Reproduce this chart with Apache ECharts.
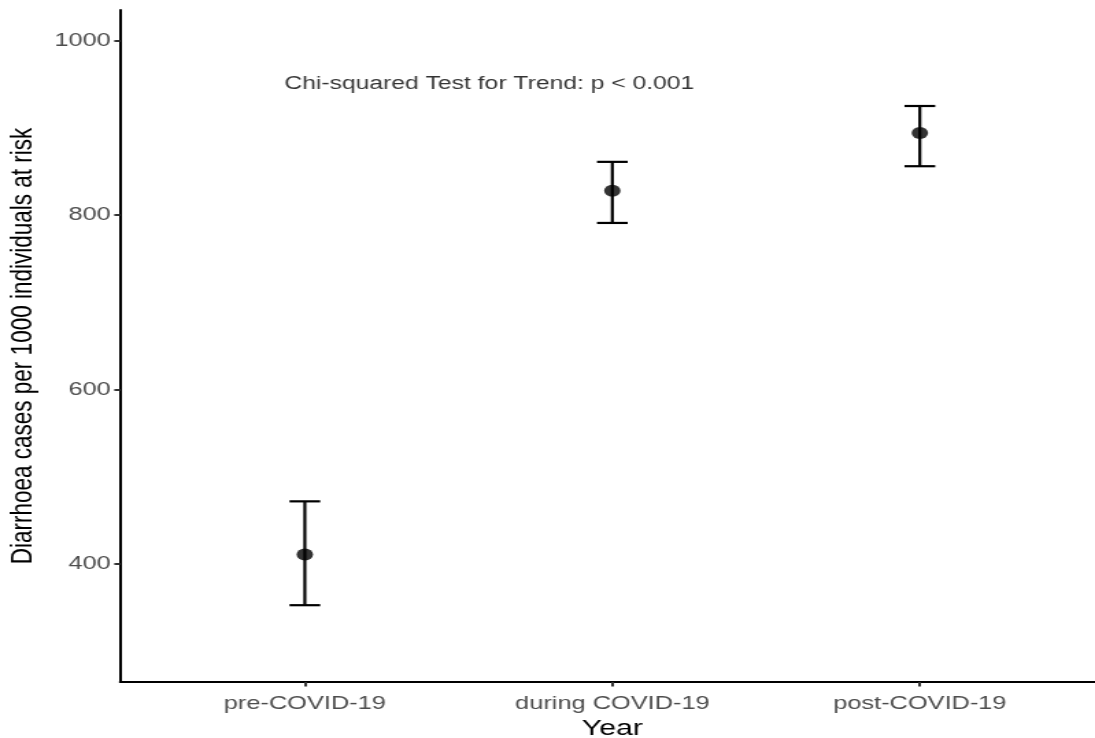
<!DOCTYPE html>
<html>
<head>
<meta charset="utf-8">
<script src="https://cdn.jsdelivr.net/npm/echarts@6/dist/echarts.min.js"></script>
<style>
    html, body { margin: 0; padding: 0; background: #fff; overflow: hidden; }
    /* the reference is a ggplot export stretched sideways, so draw narrow and widen */
    #main { width: 799px; height: 738px; transform: scaleX(1.3705); transform-origin: 0 0; }
</style>
</head>
<body>
<div id="main"></div>
<script>
var periods = ['pre-COVID-19', 'during COVID-19', 'post-COVID-19'];
var rate = [411, 828, 894];   // cases per 1000 at risk
var lower = [353, 791, 856];
var upper = [472, 861, 925];
var yTicks = [400, 600, 800, 1000];
var note = 'Chi-squared Test for Trend: p < 0.001';

var font = '"Liberation Sans", Arial, sans-serif';

var points = [], bars = [];
for (var i = 0; i < periods.length; i++) {
    points.push([i + 1, rate[i]]);
    bars.push([i + 1, lower[i], upper[i]]);
}

// error bar: stem + two caps
function renderBar(params, api) {
    var x = api.value(0);
    var half = 0.05;
    var lo = api.value(1), hi = api.value(2);
    var top = api.coord([x, hi]), bot = api.coord([x, lo]);
    var tl = api.coord([x - half, hi]), tr = api.coord([x + half, hi]);
    var bl = api.coord([x - half, lo]), br = api.coord([x + half, lo]);
    var st = { stroke: '#000', lineWidth: 2.2 };
    return {
        type: 'group',
        children: [
            { type: 'line', shape: { x1: top[0], y1: top[1], x2: bot[0], y2: bot[1] }, style: st },
            { type: 'line', shape: { x1: tl[0], y1: tl[1], x2: tr[0], y2: tr[1] }, style: st },
            { type: 'line', shape: { x1: bl[0], y1: bl[1], x2: br[0], y2: br[1] }, style: st }
        ]
    };
}

var myChart = echarts.init(document.getElementById('main'));
var option = {
    animation: false,
    backgroundColor: '#fff',
    grid: { left: 87.8, top: 10, width: 718, bottom: 56, containLabel: false, outerBoundsMode: 'none' },
    xAxis: {
        type: 'value',
        min: 0.4,
        max: 3.6,
        name: 'Year',
        nameLocation: 'middle',
        nameGap: 32,
        nameTextStyle: { fontFamily: font, fontSize: 22, color: '#000' },
        axisLine: { show: true, onZero: false, lineStyle: { color: '#000', width: 2.2 } },
        axisTick: { show: true, length: 4.5, customValues: [1, 2, 3], lineStyle: { color: '#333', width: 2 } },
        axisLabel: {
            customValues: [1, 2, 3],
            margin: 12,
            fontFamily: font,
            fontSize: 18.5,
            color: '#4d4d4d',
            formatter: function (v) { return periods[Math.round(v) - 1]; }
        },
        splitLine: { show: false }
    },
    yAxis: {
        type: 'value',
        min: 265,
        max: 1035,
        name: 'Diarrhoea cases per 1000 individuals at risk',
        nameLocation: 'middle',
        nameGap: 55,
        nameTextStyle: { fontFamily: font, fontSize: 22.5, color: '#000' },
        axisLine: { show: true, onZero: false, lineStyle: { color: '#000', width: 2 } },
        axisTick: { show: true, length: 4.4, customValues: yTicks, lineStyle: { color: '#333', width: 2 } },
        axisLabel: {
            customValues: yTicks,
            margin: 7,
            fontFamily: font,
            fontSize: 18.5,
            color: '#4d4d4d',
            formatter: function (v) { return String(v); }
        },
        splitLine: { show: false }
    },
    series: [
        {
            type: 'custom',
            renderItem: renderBar,
            data: bars,
            z: 2
        },
        {
            type: 'scatter',
            data: points,
            symbolSize: 12,
            itemStyle: { color: '#000' },
            z: 3
        },
        {
            // trend test note, placed in data space like ggplot annotate()
            type: 'scatter',
            data: [[1.6, 950]],
            symbolSize: 0,
            silent: true,
            label: {
                show: true,
                position: 'inside',
                formatter: note,
                fontFamily: font,
                fontSize: 18,
                color: '#000'
            }
        }
    ]
};
myChart.setOption(option, true);
</script>
</body>
</html>
